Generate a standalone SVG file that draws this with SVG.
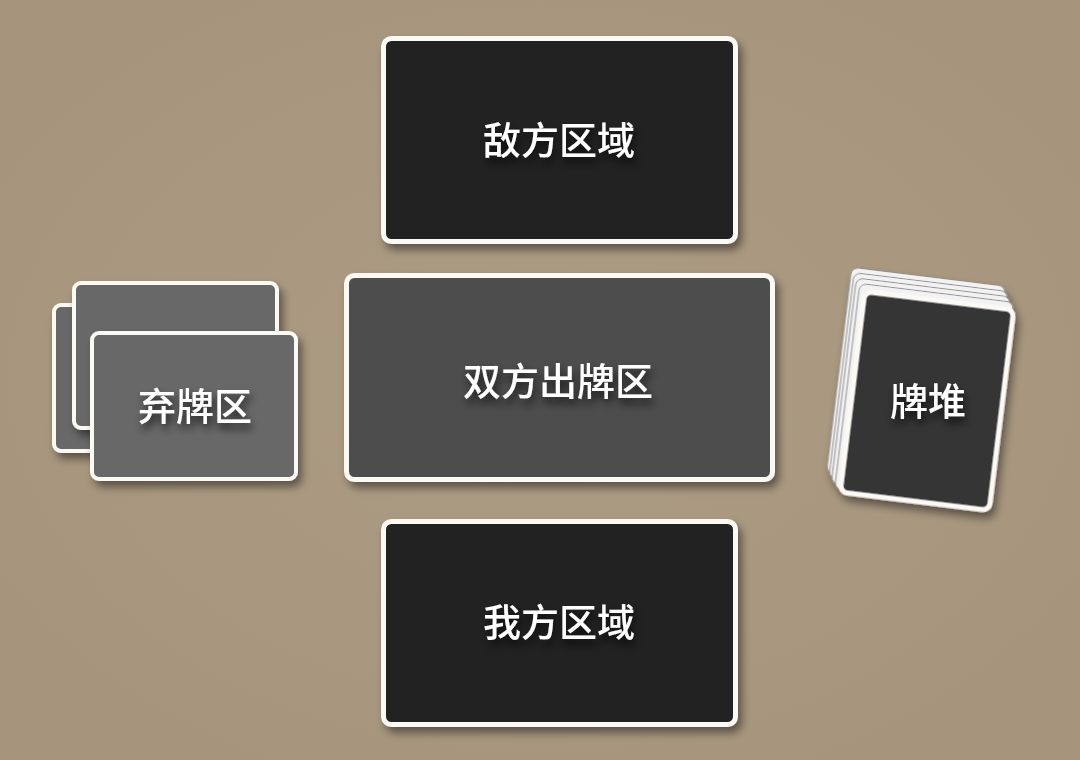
<svg xmlns="http://www.w3.org/2000/svg" width="1080" height="760" viewBox="0 0 1080 760">
  <defs>
    <radialGradient id="bg" cx="50%" cy="50%" r="70%">
      <stop offset="0" stop-color="#ad9c84"/>
      <stop offset="1" stop-color="#a5947b"/>
    </radialGradient>
    <filter id="cardShadow" x="-20%" y="-20%" width="140%" height="150%">
      <feDropShadow dx="4" dy="6" stdDeviation="4" flood-color="#000" flood-opacity="0.45"/>
    </filter>
    <filter id="textShadow" x="-20%" y="-40%" width="140%" height="200%">
      <feDropShadow dx="2" dy="6" stdDeviation="4" flood-color="#000" flood-opacity="0.7"/>
    </filter>
  </defs>
  <style>
    .card { stroke: #fbf9f4; stroke-width: 5; }
    .dark { fill: #222222; }
    .mid { fill: #4e4e4e; }
    .grey { fill: #676767; stroke-width: 4; }
    .deckface { fill: #353535; }
    .edge { fill: #f2f2f2; stroke: #8f8f8f; stroke-width: 1; }
    .label { font-family: "Noto Sans CJK SC", "Noto Sans", sans-serif; font-weight: 500; font-size: 38px; fill: #ffffff; text-anchor: middle; filter: url(#textShadow); }
  </style>
  <rect x="0" y="0" width="1080" height="760" fill="url(#bg)"/>

  <g id="connectors"/>

  <g id="enemy-zone">
    <rect class="card dark" x="383.5" y="38.5" width="352" height="203" rx="8" filter="url(#cardShadow)"/>
    <text class="label" x="559" y="154">敌方区域</text>
  </g>

  <g id="play-zone">
    <rect class="card mid" x="346.5" y="275.5" width="426" height="204" rx="8" filter="url(#cardShadow)"/>
    <text class="label" x="558" y="395">双方出牌区</text>
  </g>

  <g id="my-zone">
    <rect class="card dark" x="383.5" y="521.5" width="352" height="203" rx="8" filter="url(#cardShadow)"/>
    <text class="label" x="559" y="636">我方区域</text>
  </g>

  <g id="discard-pile">
    <rect class="card grey" x="54" y="305" width="203" height="146" rx="7" filter="url(#cardShadow)"/>
    <rect class="card grey" x="74" y="283" width="203" height="145" rx="7" filter="url(#cardShadow)"/>
    <rect class="card grey" x="92" y="333" width="204" height="146" rx="7" filter="url(#cardShadow)"/>
    <text class="label" x="195" y="420">弃牌区</text>
  </g>

  <g id="deck">
    <g transform="translate(927 401) rotate(7)" filter="url(#cardShadow)">
      <rect class="edge" x="-91" y="-123.5" width="155" height="207" rx="7"/>
      <rect class="edge" x="-88" y="-118.5" width="155" height="207" rx="7"/>
      <rect class="edge" x="-85" y="-113.5" width="155" height="207" rx="7"/>
      <rect class="edge" x="-81" y="-108.5" width="155" height="207" rx="7"/>
      <rect class="card deckface" x="-75" y="-101" width="150" height="202" rx="7"/>
    </g>
    <text class="label" x="928" y="415">牌堆</text>
  </g>
</svg>
